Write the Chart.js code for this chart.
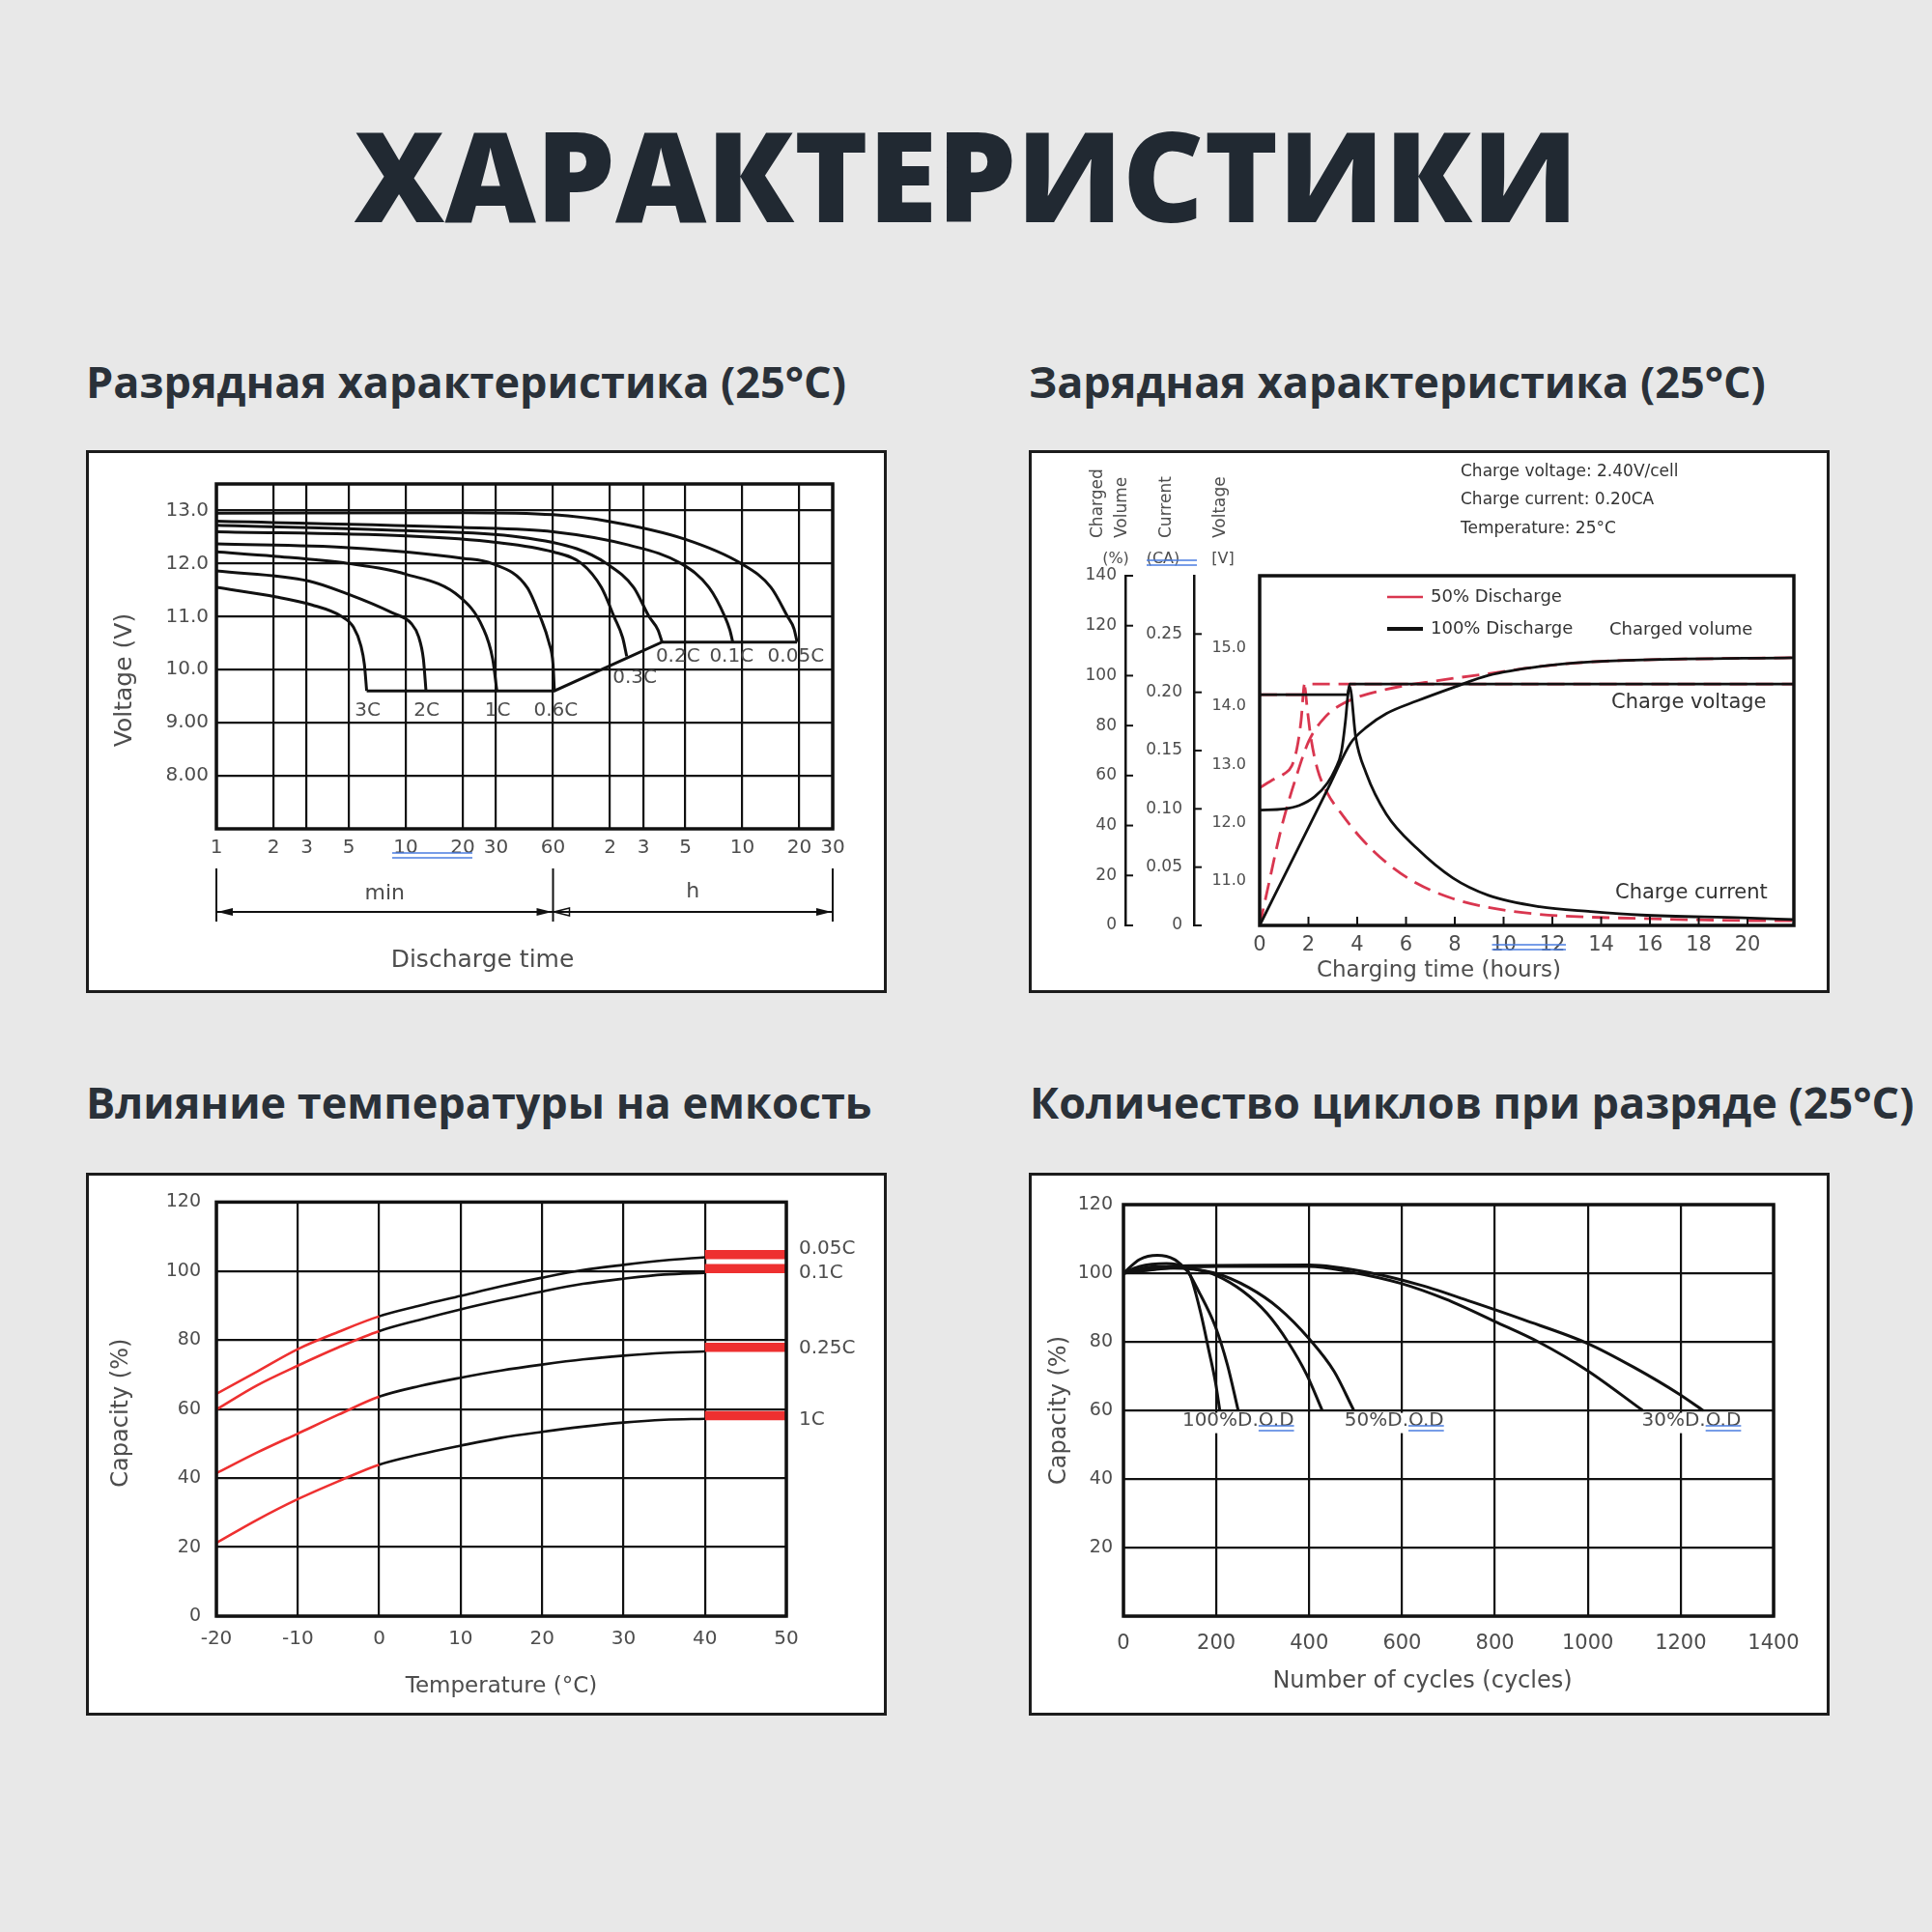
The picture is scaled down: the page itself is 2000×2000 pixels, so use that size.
<!DOCTYPE html>
<html>
<head>
<meta charset="utf-8">
<title>Характеристики</title>
<script src="https://cdn.jsdelivr.net/npm/chart.js@4.4.1/dist/chart.umd.min.js"></script>
<style>
  html, body { margin: 0; padding: 0; }
  body { width: 2000px; height: 2000px; background: #e8e8e8; position: relative; overflow: hidden; font-family: "Open Sans", sans-serif; }
  #title { position: absolute; left: 0; top: 115px; width: 2000px; text-align: center; font-size: 130px; font-weight: 800; line-height: 1; color: #212932; white-space: nowrap; }
  .sub { position: absolute; font-size: 45px; font-weight: 700; line-height: 1; color: #2a3139; white-space: nowrap; }
  .box { position: absolute; width: 829px; height: 562px; box-sizing: border-box; border: 3px solid #1c1c1c; background: #fff; }
  .box canvas { position: absolute; left: 0; top: 0; }
</style>
</head>
<body>
<div id="title">ХАРАКТЕРИСТИКИ</div>
<div class="sub" style="left:89px;top:372px">Разрядная характеристика (25°C)</div>
<div class="sub" style="left:1065px;top:372px">Зарядная характеристика (25°C)</div>
<div class="sub" style="left:89px;top:1118px">Влияние температуры на емкость</div>
<div class="sub" style="left:1066px;top:1118px">Количество циклов при разряде (25°C)</div>

<div class="box" style="left:89px;top:466px"><canvas id="discharge" width="823" height="556"></canvas></div>
<div class="box" style="left:1065px;top:466px"><canvas id="charge" width="823" height="556"></canvas></div>
<div class="box" style="left:89px;top:1214px"><canvas id="temperature" width="823" height="556"></canvas></div>
<div class="box" style="left:1065px;top:1214px"><canvas id="cycles" width="823" height="556"></canvas></div>

<script>
// ---------- discharge chart: [minutes, volts] ----------
const timeTicks = [1, 2, 3, 5, 10, 20, 30, 60, 120, 180, 300, 600, 1200, 1800];
const timeTickLabels = ["1", "2", "3", "5", "10", "20", "30", "60", "2", "3", "5", "10", "20", "30"];
const voltTicks = [8, 9, 10, 11, 12, 13];
const voltTickLabels = ["8.00", "9.00", "10.0", "11.0", "12.0", "13.0"];

const dis3C = [[1, 11.55], [2.08, 11.37], [3.2, 11.22], [4.55, 11.01], [5.3, 10.8], [5.8, 10.45], [6.05, 10.1], [6.22, 9.6]];
const dis2C = [[1, 11.86], [3.08, 11.67], [4.9, 11.43], [8.5, 11.07], [10.7, 10.87], [11.7, 10.62], [12.4, 10.2], [12.8, 9.6]];
const dis1C = [[1, 12.22], [2, 12.14], [5, 12.0], [10, 11.8], [19.3, 11.37], [25.5, 10.8], [28.8, 10.2], [30.3, 9.6]];
const dis06C = [[1, 12.37], [5, 12.3], [20, 12.1], [28.6, 12.0], [43.8, 11.55], [51.3, 11.0], [57.2, 10.5], [60, 10.1], [61, 9.6]];
const dis03C = [[1, 12.6], [10, 12.52], [30, 12.4], [60, 12.22], [85, 12.0], [108, 11.55], [126, 11.0], [140, 10.6], [147, 10.25]];
const dis02C = [[1, 12.72], [10, 12.62], [40, 12.5], [80, 12.28], [115, 12.0], [160, 11.55], [193, 11.0], [215, 10.75], [226, 10.52]];
const dis01C = [[1, 12.8], [20, 12.68], [60, 12.6], [150, 12.35], [285, 12.0], [400, 11.55], [485, 11.0], [515, 10.75], [534, 10.52]];
const dis005C = [[1, 12.95], [20, 12.96], [60, 12.92], [120, 12.79], [298, 12.46], [591, 12.0], [850, 11.55], [1040, 11.0], [1125, 10.77], [1167, 10.52]];
const cutoffLine = [[6.22, 9.6], [61, 9.6], [226, 10.52], [1167, 10.52]];
// [text, minutes, volts]
const dischargeLabels = [["3C", 6.3, 9.23], ["2C", 12.9, 9.23], ["1C", 30.6, 9.23], ["0.6C", 62, 9.23],
  ["0.3C", 162, 9.84], ["0.2C", 274, 10.25], ["0.1C", 526, 10.25], ["0.05C", 1150, 10.25]];

// ---------- charge chart: [hours, value] ----------
const hourTicks = [0, 2, 4, 6, 8, 10, 12, 14, 16, 18, 20];
const chargeVoltTicks = [11, 12, 13, 14, 15];
const currentTicks = [0, 0.05, 0.1, 0.15, 0.2, 0.25];
const volumeTicks = [0, 20, 40, 60, 80, 100, 120, 140];

const volume100 = [[0, 0], [1.84, 36], [2.9, 56.8], [3.73, 73], [4.4, 79.5], [5.19, 84.8], [6.45, 89.9], [7.92, 95.2], [9.38, 100.1], [11.5, 103.7], [13.6, 105.5], [15.7, 106.3], [21.9, 107.2]];
const voltage100 = [[0, 12.22], [1.0, 12.24], [1.63, 12.3], [2.26, 12.45], [2.79, 12.69], [3.1, 12.92], [3.35, 13.22], [3.52, 13.76], [3.62, 14.2], [3.69, 14.38], [21.9, 14.38]];
const current100 = [[0, 0.198], [3.6, 0.198], [3.69, 0.205], [3.94, 0.161], [4.36, 0.131], [5.19, 0.0956], [6.45, 0.066], [7.92, 0.0407], [9.38, 0.0258], [11.48, 0.016], [13.57, 0.0119], [15.66, 0.0089], [19.85, 0.0065], [21.9, 0.005]];
const volume50 = [[0, 0], [0.38, 16.9], [0.69, 30.8], [1.0, 43.2], [1.42, 57.1], [2.01, 73.7], [2.68, 83.4], [3.52, 89.3], [5.19, 94.5], [7.29, 98], [9.38, 100.8], [11.5, 103.7], [13.6, 105.5], [15.7, 106.3], [21.9, 107.2]];
const voltage50 = [[0, 12.6], [0.59, 12.75], [1.0, 12.84], [1.32, 12.98], [1.53, 13.28], [1.7, 13.76], [1.84, 14.38], [21.9, 14.38]];
const current50 = [[0, 0.198], [1.75, 0.198], [1.84, 0.205], [1.95, 0.186], [2.1, 0.161], [2.37, 0.134], [2.79, 0.113], [3.31, 0.097], [4.15, 0.075], [5.19, 0.054], [6.45, 0.036], [7.92, 0.023], [9.38, 0.0154], [11.48, 0.0095], [15.66, 0.0059], [19.85, 0.0042], [21.9, 0.004]];

// ---------- temperature chart ----------
const tempX = [-20, -15, -10, -5, 0, 5, 10, 15, 20, 25, 30, 35, 40];
const cap005C = [64.4, 70.9, 77.4, 82.4, 86.9, 90.0, 92.8, 95.6, 98.1, 100.3, 101.8, 103.1, 104.0];
const cap01C = [59.9, 66.9, 72.6, 77.9, 82.6, 85.9, 88.9, 91.6, 94.1, 96.3, 97.8, 99.0, 99.5];
const cap025C = [41.4, 47.4, 52.9, 58.4, 63.6, 66.7, 69.1, 71.2, 72.9, 74.4, 75.5, 76.3, 76.7];
const cap1C = [21.2, 27.9, 33.9, 39.1, 43.9, 46.9, 49.4, 51.7, 53.4, 54.9, 56.1, 56.9, 57.2];
const barX = [40, 50];
const barLevels = [104.8, 100.7, 77.9, 58.1];
const barNames = ["0.05C", "0.1C", "0.25C", "1C"];

// ---------- cycle life chart: [cycles, %] ----------
const dod100a = [[0, 100], [35, 104], [73, 105.2], [110, 104], [125.5, 102.3], [142, 100], [165, 89.2], [184.6, 77], [197.7, 68.5], [207.5, 60]];
const dod100b = [[0, 100], [33.5, 101.9], [92.6, 102.8], [132, 101.4], [165, 93.9], [197.7, 84.5], [224, 73.2], [247, 60]];
const dod50a = [[0, 100], [60, 101.8], [120, 102], [160, 101], [197.7, 99.5], [256.8, 94.8], [309, 88.3], [355, 79.8], [394.7, 70.4], [428, 60]];
const dod50b = [[0, 100], [100, 101.5], [197.7, 100], [270, 95.8], [335.5, 89.7], [401, 80.7], [453.5, 71.4], [496, 60]];
const dod30a = [[0, 100], [98, 101.5], [202, 102], [400, 102], [483, 100.5], [598, 97], [694, 92.4], [800, 85.9], [896, 79.8], [998, 71.7], [1118, 60]];
const dod30b = [[0, 100], [119, 102.1], [400, 102.4], [535, 100], [640, 96.5], [753, 91.5], [860, 86.5], [1000, 79.5], [1100, 72.5], [1196, 64.8], [1248, 60]];
const dodNames = ["100%D.O.D", "50%D.O.D", "30%D.O.D"];
const dodLabelX = [247, 583, 1223];
const dodLabelY = 56.9;

// ---------- styling ----------
const FONT = '"DejaVu Sans", sans-serif';
const INK = "#111";
const GREY = "#4d4d4d";
const RED = "#ee3030";
const CRIMSON = "#d9364f";
const BLUE = "#4a7de0";

Chart.defaults.font.family = FONT;

const pairs = arr => arr.map(([x, y]) => ({ x, y }));
const fixW = w => s => { s.width = w; };
const fixH = h => s => { s.height = h; };
const setTicks = vals => s => { s.ticks = vals.map(v => ({ value: v })); };

function curve(arr, extra) {
  return Object.assign({
    data: pairs(arr), borderColor: INK, borderWidth: 3, pointRadius: 0,
    tension: 0.4, cubicInterpolationMode: "monotone", fill: false
  }, extra);
}

function baseOptions(padding) {
  return {
    responsive: false, animation: false, devicePixelRatio: 1,
    layout: { padding },
    plugins: { legend: { display: false }, tooltip: { enabled: false } }
  };
}

const gridLines = { color: INK, lineWidth: 2.2, drawTicks: false };
const tickFont = size => ({ color: GREY, font: { family: FONT, size } });

function text(ctx, str, x, y, o = {}) {
  const size = o.size || 20;
  ctx.save();
  ctx.font = size + "px " + FONT;
  ctx.textAlign = o.align || "center";
  ctx.textBaseline = "middle";
  ctx.translate(x, y);
  if (o.rotate) ctx.rotate(o.rotate);
  if (o.bg) {
    const w = ctx.measureText(str).width;
    const x0 = o.align === "left" ? 0 : -w / 2;
    ctx.fillStyle = o.bg;
    ctx.fillRect(x0 - 2, -size * 0.42, w + 4, size * 1.05);
  }
  ctx.fillStyle = o.color || GREY;
  ctx.fillText(str, 0, 0);
  ctx.restore();
}

function seg(ctx, x0, y0, x1, y1, w, color, dash) {
  ctx.save();
  ctx.strokeStyle = color || INK;
  ctx.lineWidth = w || 2;
  if (dash) ctx.setLineDash(dash);
  ctx.beginPath();
  ctx.moveTo(x0, y0);
  ctx.lineTo(x1, y1);
  ctx.stroke();
  ctx.restore();
}

function frame(ctx, a) {
  ctx.save();
  ctx.strokeStyle = INK;
  ctx.lineWidth = 3.5;
  ctx.strokeRect(a.left, a.top, a.right - a.left, a.bottom - a.top);
  ctx.restore();
}

function blueMark(ctx, x0, x1, y) {
  seg(ctx, x0, y, x1, y, 1.6, BLUE);
  seg(ctx, x0, y + 5, x1, y + 5, 1.6, BLUE);
}

function arrowHead(ctx, x, y, dir, filled) {
  ctx.save();
  ctx.fillStyle = INK;
  ctx.strokeStyle = INK;
  ctx.lineWidth = 1.5;
  ctx.beginPath();
  ctx.moveTo(x, y);
  ctx.lineTo(x - dir * 16, y - 4);
  ctx.lineTo(x - dir * 16, y + 4);
  ctx.closePath();
  filled ? ctx.fill() : ctx.stroke();
  ctx.restore();
}

// ---------- 1. discharge ----------
new Chart(document.getElementById("discharge"), {
  type: "line",
  data: {
    datasets: [dis3C, dis2C, dis1C, dis06C, dis03C, dis02C, dis01C, dis005C].map(s => curve(s))
      .concat([curve(cutoffLine, { tension: 0, cubicInterpolationMode: "default" })])
  },
  options: Object.assign(baseOptions({ top: 32, right: 53, left: 0, bottom: 0 }), {
    scales: {
      x: {
        type: "logarithmic", min: 1, max: 1800,
        afterBuildTicks: setTicks(timeTicks), afterFit: fixH(167),
        grid: gridLines, border: { display: false },
        ticks: Object.assign(tickFont(20), { autoSkip: false, maxRotation: 0, padding: 8, callback: (v, i) => timeTickLabels[i] })
      },
      y: {
        type: "linear", min: 7, max: 13.5,
        afterBuildTicks: setTicks(voltTicks), afterFit: fixW(132),
        grid: gridLines, border: { display: false },
        ticks: Object.assign(tickFont(20), { padding: 8, callback: (v, i) => voltTickLabels[i] })
      }
    }
  }),
  plugins: [{
    id: "dischargeNotes",
    afterDraw(chart) {
      const { ctx, chartArea: a, scales: { x, y } } = chart;
      frame(ctx, a);
      dischargeLabels.forEach(([s, t, v]) => text(ctx, s, x.getPixelForValue(t), y.getPixelForValue(v), { size: 20 }));
      const p1 = x.getPixelForValue(1), p60 = x.getPixelForValue(60), pEnd = x.getPixelForValue(1800);
      [p1, p60, pEnd].forEach(p => seg(ctx, p, a.bottom + 41, p, a.bottom + 96, 2));
      const ya = a.bottom + 86;
      seg(ctx, p1, ya, pEnd, ya, 2);
      arrowHead(ctx, p1 + 1, ya, -1, true);
      arrowHead(ctx, p60 - 1, ya, 1, true);
      arrowHead(ctx, p60 + 1, ya, -1, false);
      arrowHead(ctx, pEnd - 1, ya, 1, true);
      text(ctx, "min", (p1 + p60) / 2, a.bottom + 67, { size: 22 });
      text(ctx, "h", (p60 + pEnd) / 2, a.bottom + 65, { size: 22 });
      text(ctx, "Discharge time", chart.width / 2 - 4, a.bottom + 136, { size: 25 });
      text(ctx, "Voltage (V)", 37, a.top + 203, { size: 25, rotate: -Math.PI / 2 });
      blueMark(ctx, x.getPixelForValue(10) - 14, x.getPixelForValue(20) + 10, a.bottom + 25);
    }
  }]
});

// ---------- 2. charge ----------
const dashed = { borderColor: CRIMSON, borderDash: [18, 9], borderWidth: 2.8 };
new Chart(document.getElementById("charge"), {
  type: "line",
  data: {
    datasets: [
      curve(voltage100, { yAxisID: "yV", borderWidth: 2.8 }),
      curve(current100, { yAxisID: "yC", borderWidth: 2.8 }),
      curve(volume100, { yAxisID: "yQ", borderWidth: 2.8 }),
      curve(voltage50, Object.assign({ yAxisID: "yV" }, dashed)),
      curve(current50, Object.assign({ yAxisID: "yC" }, dashed)),
      curve(volume50, Object.assign({ yAxisID: "yQ" }, dashed))
    ]
  },
  options: Object.assign(baseOptions({ top: 127, right: 34, left: 0, bottom: 0 }), {
    scales: {
      x: {
        type: "linear", min: 0, max: 21.9,
        afterBuildTicks: setTicks(hourTicks), afterFit: fixH(67),
        grid: { display: false }, border: { display: false },
        ticks: Object.assign(tickFont(21), { autoSkip: false, maxRotation: 0, padding: 0, callback: v => String(v) })
      },
      yV: {
        axis: "y", type: "linear", position: "left", weight: 1, min: 10.24, max: 16.24,
        afterBuildTicks: setTicks(chargeVoltTicks), afterFit: fixW(68),
        grid: { display: false }, border: { display: false },
        ticks: Object.assign(tickFont(16), { padding: 6, callback: v => v.toFixed(1) })
      },
      yC: {
        axis: "y", type: "linear", position: "left", weight: 2, min: 0, max: 0.3,
        afterBuildTicks: setTicks(currentTicks), afterFit: fixW(71),
        grid: { display: true, drawOnChartArea: false, drawTicks: false },
        border: { display: true, color: INK, width: 2.5 },
        ticks: Object.assign(tickFont(17), { padding: 12, callback: v => (v === 0 ? "0" : v.toFixed(2)) })
      },
      yQ: {
        axis: "y", type: "linear", position: "left", weight: 3, min: 0, max: 140,
        afterBuildTicks: setTicks(volumeTicks), afterFit: fixW(97),
        grid: { display: true, drawOnChartArea: false, drawTicks: false },
        border: { display: true, color: INK, width: 2.5 },
        ticks: Object.assign(tickFont(17), { padding: 9, callback: v => String(v) })
      }
    }
  }),
  plugins: [{
    id: "chargeNotes",
    afterDraw(chart) {
      const { ctx, chartArea: a, scales: s } = chart;
      frame(ctx, a);
      [s.yQ, s.yC].forEach(sc => sc.ticks.forEach(t => {
        const py = sc.getPixelForValue(t.value);
        seg(ctx, sc.right - 1, py, sc.right + 8, py, 2);
      }));
      hourTicks.filter(h => h > 0).forEach(h => {
        const px = s.x.getPixelForValue(h);
        seg(ctx, px, a.bottom, px, a.bottom - 9, 2);
      });
      const up = -Math.PI / 2;
      text(ctx, "Charged", s.yQ.right - 28, 88, { size: 17, rotate: up, align: "left" });
      text(ctx, "Volume", s.yQ.right - 3, 88, { size: 17, rotate: up, align: "left" });
      text(ctx, "Current", s.yC.right - 28, 88, { size: 17, rotate: up, align: "left" });
      text(ctx, "Voltage", a.left - 40, 88, { size: 17, rotate: up, align: "left" });
      text(ctx, "(%)", s.yQ.right - 10, 110, { size: 16 });
      text(ctx, "(CA)", s.yC.right - 32, 110, { size: 16 });
      text(ctx, "[V]", a.left - 38, 110, { size: 16 });
      blueMark(ctx, s.yC.right - 49, s.yC.right + 3, 111);
      ["Charge voltage: 2.40V/cell", "Charge current: 0.20CA", "Temperature: 25°C"]
        .forEach((line, i) => text(ctx, line, a.left + 208, [20, 49, 79][i], { size: 17, align: "left", color: "#333" }));
      seg(ctx, a.left + 132, a.top + 22, a.left + 169, a.top + 22, 2.6, CRIMSON);
      seg(ctx, a.left + 132, a.top + 55, a.left + 169, a.top + 55, 4, INK);
      text(ctx, "50% Discharge", a.left + 177, a.top + 22, { size: 18, align: "left", color: "#333" });
      text(ctx, "100% Discharge", a.left + 177, a.top + 55, { size: 18, align: "left", color: "#333" });
      text(ctx, "Charged volume", a.left + 362, a.top + 56, { size: 18, align: "left", color: "#333" });
      text(ctx, "Charge voltage", a.left + 364, a.top + 132, { size: 21, align: "left", color: "#333" });
      text(ctx, "Charge current", a.left + 368, a.bottom - 33, { size: 21, align: "left", color: "#333" });
      text(ctx, "Charging time (hours)", chart.width / 2 + 10, a.bottom + 47, { size: 23 });
      blueMark(ctx, s.x.getPixelForValue(10) - 12, s.x.getPixelForValue(12) + 14, a.bottom + 20);
    }
  }]
});

// ---------- 3. temperature ----------
const toXY = ys => ys.map((y, i) => [tempX[i], y]);
const coldWarm = { borderColor: c => (c.p1.parsed.x <= 0 ? RED : INK) };
new Chart(document.getElementById("temperature"), {
  type: "line",
  data: {
    datasets: [cap005C, cap01C, cap025C, cap1C].map(ys => curve(toXY(ys), { segment: coldWarm, borderWidth: 2.6 }))
      .concat(barLevels.map(v => curve(barX.map(x => [x, v]), { borderColor: RED, borderWidth: 9.5, borderCapStyle: "butt", tension: 0, cubicInterpolationMode: "default" })))
  },
  options: Object.assign(baseOptions({ top: 25, right: 101, left: 0, bottom: 0 }), {
    scales: {
      x: {
        type: "linear", min: -20, max: 50, ticks: Object.assign(tickFont(20), { stepSize: 10, maxRotation: 0, padding: 12 }),
        afterFit: fixH(100), grid: gridLines, border: { display: false }
      },
      y: {
        type: "linear", min: 0, max: 120, ticks: Object.assign(tickFont(19), { stepSize: 20, padding: 16 }),
        afterFit: fixW(132), grid: gridLines, border: { display: false }
      }
    }
  }),
  plugins: [{
    id: "tempNotes",
    afterDraw(chart) {
      const { ctx, chartArea: a, scales: { y } } = chart;
      frame(ctx, a);
      const nudge = [-6, 4, 1, 4];
      barNames.forEach((n, i) => text(ctx, n, a.right + 13, y.getPixelForValue(barLevels[i]) + nudge[i], { size: 20, align: "left" }));
      text(ctx, "Capacity (%)", 34, (a.top + a.bottom) / 2 + 4, { size: 24, rotate: -Math.PI / 2 });
      text(ctx, "Temperature (°C)", (a.left + a.right) / 2, a.bottom + 73, { size: 23 });
    }
  }]
});

// ---------- 4. cycle life ----------
new Chart(document.getElementById("cycles"), {
  type: "line",
  data: { datasets: [dod100a, dod100b, dod50a, dod50b, dod30a, dod30b].map(s => curve(s)) },
  options: Object.assign(baseOptions({ top: 30, right: 55, left: 0, bottom: 0 }), {
    scales: {
      x: {
        type: "linear", min: 0, max: 1400,
        ticks: Object.assign(tickFont(21), { stepSize: 200, maxRotation: 0, padding: 16, callback: v => String(v) }),
        afterFit: fixH(100), grid: gridLines, border: { display: false }
      },
      y: {
        type: "linear", min: 0, max: 120,
        ticks: Object.assign(tickFont(19), { stepSize: 20, padding: 11, callback: v => (v === 0 ? "" : String(v)) }),
        afterFit: fixW(95), grid: gridLines, border: { display: false }
      }
    }
  }),
  plugins: [{
    id: "cycleNotes",
    afterDraw(chart) {
      const { ctx, chartArea: a, scales: { x, y } } = chart;
      frame(ctx, a);
      const py = y.getPixelForValue(dodLabelY);
      ctx.save();
      ctx.font = "20px " + FONT;
      dodNames.forEach((n, i) => {
        const px = x.getPixelForValue(dodLabelX[i]);
        const w = ctx.measureText(n).width;
        const pre = ctx.measureText(n.slice(0, n.length - 3)).width;
        text(ctx, n, px, py, { size: 20, bg: "#fff" });
        blueMark(ctx, px - w / 2 + pre, px + w / 2, py + 5);
      });
      ctx.restore();
      text(ctx, "Capacity (%)", 29, (a.top + a.bottom) / 2, { size: 24, rotate: -Math.PI / 2 });
      text(ctx, "Number of cycles (cycles)", (a.left + a.right) / 2 - 27, a.bottom + 68, { size: 24 });
    }
  }]
});
</script>
</body>
</html>
